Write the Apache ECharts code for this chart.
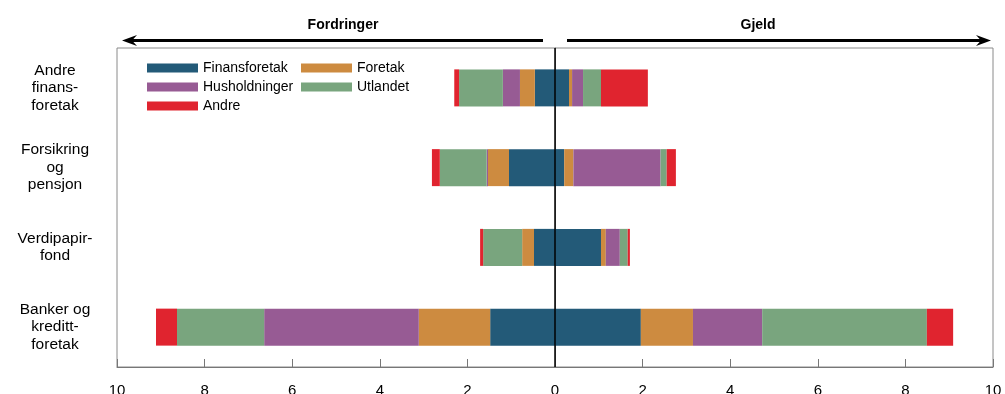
<!DOCTYPE html>
<html>
<head>
<meta charset="utf-8">
<script src="https://cdn.jsdelivr.net/npm/echarts@6/dist/echarts.min.js"></script>
<style>
  html, body { margin: 0; padding: 0; background: #fff; }
  #chart { width: 1005px; height: 394px; }
</style>
</head>
<body>
<div id="chart"></div>
<script>
// Sectors, top to bottom
const categories = ['Andre\nfinans-\nforetak', 'Forsikring\nog\npensjon', 'Verdipapir-\nfond', 'Banker og\nkreditt-\nforetak'];

// Counterparties (stack order, from zero outwards)
const counterparties = ['Finansforetak', 'Foretak', 'Husholdninger', 'Utlandet', 'Andre'];
const colors = ['#235a78', '#cd8b40', '#975b94', '#79a57e', '#e0242f'];

// Fordringer (claims), drawn to the left of zero
const fordFinansforetak  = [0.46, 1.05, 0.48, 1.48];
const fordForetak        = [0.34, 0.48, 0.27, 1.63];
const fordHusholdninger  = [0.39, 0.03, 0.00, 3.53];
const fordUtlandet       = [1.00, 1.07, 0.89, 1.99];
const fordAndre          = [0.11, 0.18, 0.07, 0.48];

// Gjeld (liabilities), drawn to the right of zero
const gjeldFinansforetak = [0.32, 0.21, 1.05, 1.96];
const gjeldForetak       = [0.07, 0.21, 0.11, 1.19];
const gjeldHusholdninger = [0.25, 1.99, 0.32, 1.58];
const gjeldUtlandet      = [0.41, 0.14, 0.18, 3.76];
const gjeldAndre         = [1.07, 0.21, 0.05, 0.60];

// Value axis ticks
const xMin = -10, xMax = 10, xStep = 2;

const fordringer = [fordFinansforetak, fordForetak, fordHusholdninger, fordUtlandet, fordAndre];
const gjeld = [gjeldFinansforetak, gjeldForetak, gjeldHusholdninger, gjeldUtlandet, gjeldAndre];

const FONT = 'Liberation Sans, Arial, sans-serif';
const chart = echarts.init(document.getElementById('chart'), null, { renderer: 'canvas' });

const series = [];
counterparties.forEach((name, i) => {
  series.push({
    name, type: 'bar', stack: 'total', barWidth: 37,
    itemStyle: { color: colors[i] },
    data: fordringer[i].map(v => -v)
  });
});
counterparties.forEach((name, i) => {
  series.push({
    name, type: 'bar', stack: 'total', barWidth: 37,
    itemStyle: { color: colors[i] },
    data: gjeld[i].slice()
  });
});
// zero line
series[0].markLine = {
  silent: true, symbol: 'none', label: { show: false },
  lineStyle: { color: '#000', width: 1.5, type: 'solid' },
  data: [{ xAxis: 0 }]
};

const legendBase = {
  orient: 'vertical', icon: 'rect', itemWidth: 51, itemHeight: 9, itemGap: 5,
  selectedMode: false, padding: 0,
  textStyle: { fontFamily: FONT, fontSize: 14, color: '#000', lineHeight: 14 }
};

const option = {
  animation: false,
  textStyle: { fontFamily: FONT },
  grid: {
    left: 117, right: 12, top: 48, bottom: 27,
    containLabel: false, outerBoundsMode: 'none',
    show: true, borderColor: '#8a8a8a', borderWidth: 1
  },
  legend: [
    Object.assign({}, legendBase, { left: 147, top: 61, data: ['Finansforetak', 'Husholdninger', 'Andre'] }),
    Object.assign({}, legendBase, { left: 301, top: 61, data: ['Foretak', 'Utlandet'] })
  ],
  xAxis: {
    type: 'value', min: xMin, max: xMax, interval: xStep,
    splitLine: { show: false },
    axisLine: { show: true, lineStyle: { color: '#777', width: 1 } },
    axisTick: { show: true, inside: true, length: 8, lineStyle: { color: '#777' } },
    axisLabel: { fontSize: 15, color: '#000', margin: 16, formatter: v => String(Math.abs(v)) }
  },
  yAxis: {
    type: 'category', data: categories, inverse: true,
    axisLine: { show: true, lineStyle: { color: '#777' } },
    axisTick: { show: true, inside: true, length: 8, alignWithLabel: true, lineStyle: { color: '#777' } },
    axisLabel: { fontSize: 15.5, color: '#000', lineHeight: 17.5, align: 'center', margin: 62, padding: [6, 0, 0, 0] }
  },
  series
};
chart.setOption(option);

// Header arrows and captions
const px = v => chart.convertToPixel({ gridIndex: 0 }, [v, 0])[0];
const yArrow = 40.5;
const xL = px(xMin), xZ = px(0), xR = px(xMax);
const leftStart = xL + 5, leftEnd = xZ - 12;
const rightStart = xZ + 12, rightEnd = xR - 2;
const head = (tipX, dir) => ({
  type: 'polygon',
  shape: { points: [[tipX, yArrow], [tipX + dir * 15, yArrow - 5.5], [tipX + dir * 10, yArrow], [tipX + dir * 15, yArrow + 5.5]] },
  style: { fill: '#000' }
});
chart.setOption({
  graphic: [
    { type: 'line', shape: { x1: leftStart + 8, y1: yArrow, x2: leftEnd, y2: yArrow }, style: { stroke: '#000', lineWidth: 2.8 } },
    head(leftStart, 1),
    { type: 'line', shape: { x1: rightStart, y1: yArrow, x2: rightEnd - 8, y2: yArrow }, style: { stroke: '#000', lineWidth: 2.8 } },
    head(rightEnd, -1),
    { type: 'text', x: 343, y: 25, style: { text: 'Fordringer', font: 'bold 14px ' + FONT, fill: '#000', textAlign: 'center', textVerticalAlign: 'middle' } },
    { type: 'text', x: 758, y: 25, style: { text: 'Gjeld', font: 'bold 14px ' + FONT, fill: '#000', textAlign: 'center', textVerticalAlign: 'middle' } }
  ]
});
</script>
</body>
</html>
